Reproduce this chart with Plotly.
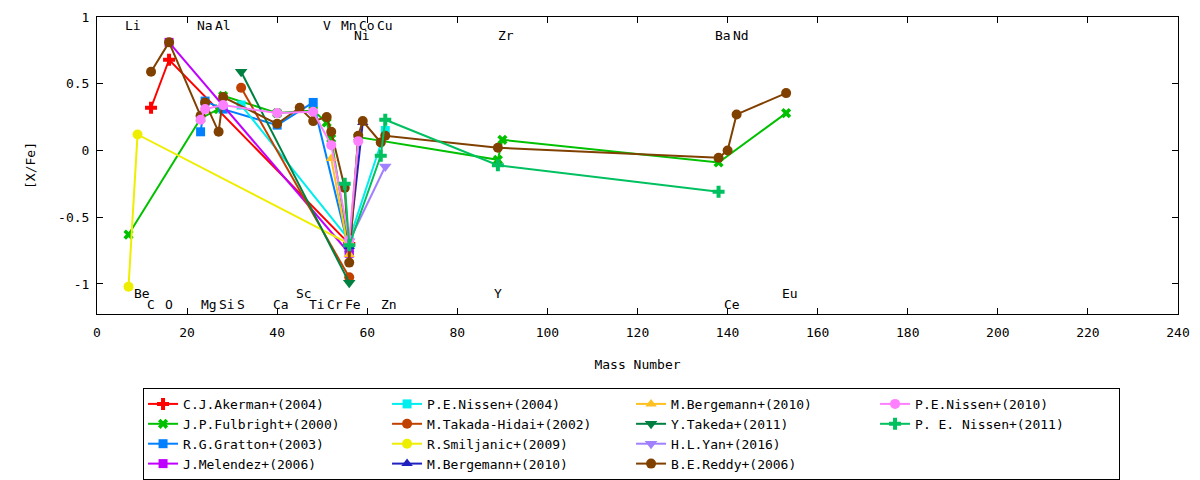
import plotly.graph_objects as go

# ---------------- data ----------------
series_names = [
    "C.J.Akerman+(2004)", "J.P.Fulbright+(2000)", "R.G.Gratton+(2003)", "J.Melendez+(2006)",
    "P.E.Nissen+(2004)", "M.Takada-Hidai+(2002)", "R.Smiljanic+(2009)", "M.Bergemann+(2010)",
    "M.Bergemann+(2010)", "Y.Takeda+(2011)", "H.L.Yan+(2016)", "B.E.Reddy+(2006)",
    "P.E.Nissen+(2010)", "P. E. Nissen+(2011)",
]

akerman_x = [12, 16, 56]
akerman_y = [0.32, 0.68, -0.70]

fulbright_x = [7, 23, 27, 28, 40, 48, 51, 52, 56, 58, 89, 90, 138, 153]
fulbright_y = [-0.63, 0.24, 0.31, 0.41, 0.28, 0.30, 0.21, 0.09, -0.74, 0.10, -0.07, 0.08, -0.09, 0.28]

gratton_x = [23, 24, 28, 40, 48, 56]
gratton_y = [0.14, 0.37, 0.31, 0.19, 0.36, -0.75]

melendez_x = [16, 56]
melendez_y = [0.81, -0.77]

nissen04_x = [32, 56, 64]
nissen04_y = [0.34, -0.67, 0.15]

takada_x = [32, 56]
takada_y = [0.47, -0.95]

smiljanic_x = [7, 9, 56]
smiljanic_y = [-1.02, 0.12, -0.70]

bergemann_a_x = [56, 59]
bergemann_a_y = [-0.72, 0.21]

bergemann_b_x = [52, 56]
bergemann_b_y = [-0.06, -0.78]

takeda_x = [32, 56]
takeda_y = [0.59, -0.99]

yan_x = [56, 64]
yan_y = [-0.68, -0.12]

reddy_x = [12, 16, 23, 24, 27, 28, 40, 45, 48, 51, 52, 55, 56, 58, 59, 63, 64, 89, 138, 140, 142, 153]
reddy_y = [0.59, 0.81, 0.26, 0.36, 0.14, 0.40, 0.20, 0.32, 0.22, 0.25, 0.14, -0.28, -0.84, 0.11, 0.22,
           0.06, 0.11, 0.02, -0.055, 0.0, 0.27, 0.43]

nissen10_x = [23, 24, 28, 40, 48, 52, 56, 58]
nissen10_y = [0.23, 0.31, 0.34, 0.28, 0.29, 0.04, -0.67, 0.07]

nissen11_x = [55, 56, 63, 64, 89, 138]
nissen11_y = [-0.25, -0.71, -0.04, 0.23, -0.11, -0.31]

elements = ["Li", "Be", "C", "O", "Na", "Mg", "Al", "Si", "S", "Ca", "Sc", "Ti", "V", "Cr",
            "Mn", "Fe", "Co", "Ni", "Cu", "Zn", "Y", "Zr", "Ba", "Ce", "Nd", "Eu"]
element_mass = [7, 9, 12, 16, 23, 24, 27, 28, 32, 40, 45, 48, 51, 52,
                55, 56, 59, 58, 63, 64, 89, 90, 138, 140, 142, 153]
element_label_y = [0.94, -1.07, -1.157, -1.157, 0.94, -1.157, 0.94, -1.157, -1.157, -1.157, -1.07, -1.157,
                   0.94, -1.157, 0.94, -1.157, 0.94, 0.865, 0.94, -1.157, -1.07, 0.865, 0.865, -1.157,
                   0.865, -1.07]

x_ticks = list(range(0, 241, 20))
y_ticks = [-1, -0.5, 0, 0.5, 1]
y_tick_text = ["-1", "-0.5", "0", "0.5", "1"]

# ---------------- styles ----------------
xs = [akerman_x, fulbright_x, gratton_x, melendez_x, nissen04_x, takada_x, smiljanic_x,
      bergemann_a_x, bergemann_b_x, takeda_x, yan_x, reddy_x, nissen10_x, nissen11_x]
ys = [akerman_y, fulbright_y, gratton_y, melendez_y, nissen04_y, takada_y, smiljanic_y,
      bergemann_a_y, bergemann_b_y, takeda_y, yan_y, reddy_y, nissen10_y, nissen11_y]
colors = ["#ff0000", "#00c000", "#0080ff", "#c000ff", "#00eeee", "#c04000", "#eeee00",
          "#2020c0", "#ffc020", "#008040", "#a080ff", "#804000", "#ff80ff", "#00c060"]
symbols = ["cross", "x", "square", "square", "square", "circle", "circle",
           "triangle-up", "triangle-up", "triangle-down", "triangle-down", "circle", "circle", "cross"]
sizes = [10, 9, 9, 9, 9, 10, 10, 10, 10, 11, 11, 10, 10, 10]
groups = ["c1"] * 4 + ["c2"] * 4 + ["c3"] * 4 + ["c4"] * 2

FONT = "DejaVu Sans Mono"

fig = go.Figure()
for name, x, y, c, s, sz, g in zip(series_names, xs, ys, colors, symbols, sizes, groups):
    fig.add_trace(go.Scatter(
        x=x, y=y, name=name, mode="lines+markers", legendgroup=g,
        line=dict(color=c, width=2),
        marker=dict(color=c, symbol=s, size=sz, line=dict(width=0)),
    ))

for el, m, ly in zip(elements, element_mass, element_label_y):
    fig.add_annotation(x=m, y=ly, xref="x", yref="y", text=el, showarrow=False,
                       xanchor="left", yanchor="middle", xshift=-6,
                       font=dict(family=FONT, size=13, color="black"))

axis_common = dict(showline=True, linecolor="black", linewidth=1, mirror="ticks",
                   ticks="inside", ticklen=6, tickcolor="black", tickwidth=1,
                   showgrid=False, zeroline=False,
                   tickfont=dict(family=FONT, size=13, color="black"))

fig.update_xaxes(range=[0, 240], tickvals=x_ticks, ticklabelstandoff=6, **axis_common,
                 title=dict(text="Mass Number", standoff=21, font=dict(family=FONT, size=13)))
fig.update_yaxes(range=[-1.225, 1], tickvals=y_ticks, ticktext=y_tick_text, ticklabelstandoff=4,
                 **axis_common,
                 title=dict(text="[X/Fe]", standoff=19, font=dict(family=FONT, size=13)))

fig.update_layout(
    width=1192, height=472,
    margin=dict(l=89, r=22, t=9, b=166, autoexpand=False),
    plot_bgcolor="white", paper_bgcolor="white",
    font=dict(family=FONT, size=13, color="black"),
    showlegend=True,
    legend=dict(orientation="h", x=0.0426, y=-0.249, xanchor="left", yanchor="top",
                traceorder="grouped", tracegroupgap=0, entrywidth=199, entrywidthmode="pixels",
                bordercolor="black", borderwidth=1, bgcolor="white",
                font=dict(family=FONT, size=13, color="black")),
)

fig.write_html("out.html")
